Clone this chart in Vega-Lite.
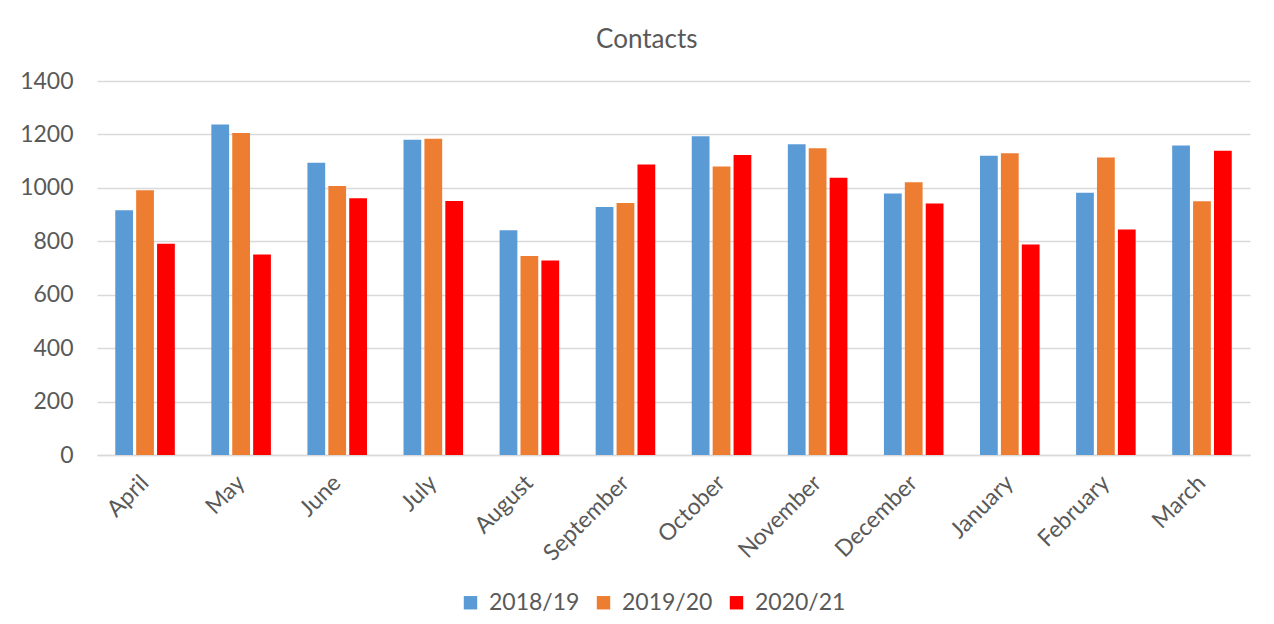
{
  "$schema": "https://vega.github.io/schema/vega-lite/v6.json",
  "autosize": {"type": "none"},
  "width": 1153,
  "height": 374,
  "padding": {"left": 97, "top": 81, "right": 24, "bottom": 169},
  "background": "white",
  "config": {
    "font": "Lato",
    "view": {"stroke": null}
  },
  "title": {
    "text": "Contacts",
    "fontSize": 26,
    "fontWeight": "normal",
    "color": "#595959",
    "anchor": "middle",
    "frame": "bounds",
    "offset": 17,
    "dx": 12
  },
  "data": {
    "values": [
      {"month": "April", "year": "2018/19", "value": 916},
      {"month": "April", "year": "2019/20", "value": 991},
      {"month": "April", "year": "2020/21", "value": 791},
      {"month": "May", "year": "2018/19", "value": 1237},
      {"month": "May", "year": "2019/20", "value": 1205},
      {"month": "May", "year": "2020/21", "value": 751},
      {"month": "June", "year": "2018/19", "value": 1094},
      {"month": "June", "year": "2019/20", "value": 1007},
      {"month": "June", "year": "2020/21", "value": 961},
      {"month": "July", "year": "2018/19", "value": 1180},
      {"month": "July", "year": "2019/20", "value": 1184},
      {"month": "July", "year": "2020/21", "value": 951},
      {"month": "August", "year": "2018/19", "value": 841},
      {"month": "August", "year": "2019/20", "value": 745},
      {"month": "August", "year": "2020/21", "value": 728},
      {"month": "September", "year": "2018/19", "value": 928},
      {"month": "September", "year": "2019/20", "value": 943},
      {"month": "September", "year": "2020/21", "value": 1087},
      {"month": "October", "year": "2018/19", "value": 1193},
      {"month": "October", "year": "2019/20", "value": 1080},
      {"month": "October", "year": "2020/21", "value": 1123},
      {"month": "November", "year": "2018/19", "value": 1163},
      {"month": "November", "year": "2019/20", "value": 1148},
      {"month": "November", "year": "2020/21", "value": 1038},
      {"month": "December", "year": "2018/19", "value": 979},
      {"month": "December", "year": "2019/20", "value": 1021},
      {"month": "December", "year": "2020/21", "value": 941},
      {"month": "January", "year": "2018/19", "value": 1120},
      {"month": "January", "year": "2019/20", "value": 1130},
      {"month": "January", "year": "2020/21", "value": 788},
      {"month": "February", "year": "2018/19", "value": 982},
      {"month": "February", "year": "2019/20", "value": 1114},
      {"month": "February", "year": "2020/21", "value": 844},
      {"month": "March", "year": "2018/19", "value": 1159},
      {"month": "March", "year": "2019/20", "value": 950},
      {"month": "March", "year": "2020/21", "value": 1139}
    ]
  },
  "mark": {"type": "bar"},
  "encoding": {
    "x": {
      "field": "month",
      "type": "nominal",
      "sort": ["April","May","June","July","August","September","October","November","December","January","February","March"],
      "scale": {"paddingInner": 0.38, "paddingOuter": 0.19},
      "axis": {
        "title": null,
        "labelAngle": -45,
        "labelAlign": "right",
        "labelBaseline": "middle",
        "labelFontSize": 23,
        "labelColor": "#595959",
        "labelPadding": 24,
        "ticks": false,
        "domainColor": "#d9d9d9",
        "domainWidth": 1.5,
        "grid": false
      }
    },
    "xOffset": {
      "field": "year",
      "type": "nominal",
      "scale": {"paddingInner": 0.15, "paddingOuter": 0}
    },
    "y": {
      "field": "value",
      "type": "quantitative",
      "scale": {"domain": [0, 1400], "nice": false},
      "axis": {
        "title": null,
        "values": [0, 200, 400, 600, 800, 1000, 1200, 1400],
        "format": "d",
        "labelFontSize": 23,
        "labelColor": "#595959",
        "labelPadding": 24,
        "ticks": false,
        "domain": false,
        "gridColor": "#d9d9d9",
        "gridWidth": 1.5
      }
    },
    "color": {
      "field": "year",
      "type": "nominal",
      "scale": {"domain": ["2018/19", "2019/20", "2020/21"], "range": ["#5B9BD5", "#ED7D31", "#FF0000"]},
      "legend": {
        "title": null,
        "orient": "none",
        "direction": "horizontal",
        "legendX": 362,
        "legendY": 510,
        "symbolType": "square",
        "symbolSize": 180,
        "symbolStrokeWidth": 0,
        "labelFontSize": 23,
        "labelColor": "#595959",
        "labelOffset": 7,
        "columnPadding": 12
      }
    }
  }
}
